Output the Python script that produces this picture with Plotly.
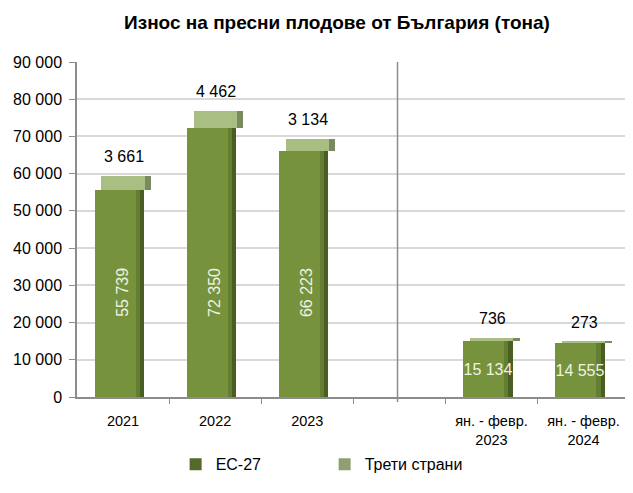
import plotly.graph_objects as go

categories = ["2021", "2022", "2023", "", "ян. - февр.<br>2023", "ян. - февр.<br>2024"]
ec27 = [55739, 72350, 66223, None, 15134, 14555]
third = [3661, 4462, 3134, None, 736, 273]
ec_labels = ["55 739", "72 350", "66 223", "", "15 134", "14 555"]
third_labels = ["3 661", "4 462", "3 134", "", "736", "273"]
vertical_label = [True, True, True, False, False, False]
series_names = ["ЕС-27", "Трети страни"]

xpos = list(range(len(categories)))

FONT = "Liberation Sans Narrow, Arial Narrow, Liberation Sans, Arial, sans-serif"
EC_COLOR = "#76923C"
EC_DARK = "#4A5E24"
TH_COLOR = "#A9BE83"
TH_DARK = "#7A8A5E"
BW = 0.54
EC_OFF = -BW / 2 - 0.04
TH_OFF = -BW / 2 + 0.035

# the page body has an 8px margin; keep the figure inside the window
W, H = 617, 477

fig = go.Figure()

fig.add_trace(go.Bar(
    x=xpos, y=ec27, name=series_names[0], width=BW, offset=EC_OFF,
    marker=dict(color=EC_COLOR, line=dict(width=0)),
    hoverinfo="skip", showlegend=False,
))
fig.add_trace(go.Bar(
    x=xpos, y=ec27, width=0.09, offset=EC_OFF + BW - 0.09,
    marker=dict(color="#637D31", line=dict(width=0)), showlegend=False, hoverinfo="skip",
))
fig.add_trace(go.Bar(
    x=xpos, y=ec27, width=0.045, offset=EC_OFF + BW - 0.045,
    marker=dict(color=EC_DARK, line=dict(width=0)), showlegend=False, hoverinfo="skip",
))
fig.add_trace(go.Bar(
    x=xpos, y=third, base=ec27, name=series_names[1], width=BW, offset=TH_OFF,
    marker=dict(color=TH_COLOR, line=dict(width=0)),
    hoverinfo="skip", showlegend=False,
))
fig.add_trace(go.Bar(
    x=xpos, y=third, base=ec27, width=0.07, offset=TH_OFF + BW - 0.07,
    marker=dict(color=TH_DARK, line=dict(width=0)), showlegend=False, hoverinfo="skip",
))
# transparent overlay carrying the horizontal in-bar labels (drawn on top)
fig.add_trace(go.Bar(
    x=xpos, y=ec27, width=BW, offset=EC_OFF,
    marker=dict(color="rgba(0,0,0,0)", line=dict(width=0)),
    text=[t if not v else "" for t, v in zip(ec_labels, vertical_label)],
    textposition="inside", insidetextanchor="middle", textangle=0, constraintext="none",
    textfont=dict(family=FONT, size=16, color="#EEF3E2"),
    showlegend=False, hoverinfo="skip",
))
# legend entries (legend swatches are darker, as in the original)
fig.add_trace(go.Bar(x=[None], y=[None], name=series_names[0],
                     marker=dict(color="#536A29", line=dict(width=0)), hoverinfo="skip"))
fig.add_trace(go.Bar(x=[None], y=[None], name=series_names[1],
                     marker=dict(color="#8E9F72", line=dict(width=0)), hoverinfo="skip"))

for xp, lab, v in zip(xpos, ec_labels, vertical_label):
    if v:
        fig.add_annotation(x=xp, y=28000, text=lab, textangle=-90, showarrow=False,
                           font=dict(family=FONT, size=16, color="#EEF3E2"))

for xp, e, t, lab in zip(xpos, ec27, third, third_labels):
    if e is not None:
        fig.add_annotation(x=xp, y=e + t, text=lab, showarrow=False, yanchor="bottom",
                           yshift=9, xshift=1, font=dict(family=FONT, size=16, color="#000000"))

fig.add_shape(type="line", xref="x", yref="paper", x0=2.98, x1=2.98, y0=-0.015, y1=1,
              line=dict(color="#8C8C8C", width=1.5))

fig.update_layout(
    width=W, height=H,
    margin=dict(l=69, r=0, t=54, b=88, autoexpand=False),
    paper_bgcolor="white", plot_bgcolor="white",
    barmode="overlay", bargap=0,
    separators=". ",
    font=dict(family=FONT, size=15, color="#000000"),
    title=dict(text="<b>Износ на пресни плодове от България (тона)</b>",
               x=329 / W, xanchor="center", y=1 - 14 / H, yanchor="middle",
               font=dict(family=FONT, size=19, color="#000000")),
    showlegend=True,
    legend=dict(orientation="h", x=0.18, xanchor="left", y=-0.15, yanchor="top",
                entrywidth=104, entrywidthmode="pixels",
                font=dict(family=FONT, size=16, color="#000000"), traceorder="normal"),
    xaxis=dict(range=[-0.5, 5.45], tickmode="array", tickvals=xpos,
               ticktext=categories, ticks="", tickangle=0, automargin=False,
               ticklabelstandoff=10,
               showline=True, linecolor="#8C8C8C", linewidth=1.5,
               minor=dict(ticks="outside", tickmode="array",
                          tickvals=[p + 0.5 for p in xpos], ticklen=5,
                          tickcolor="#8C8C8C", showgrid=False),
               tickfont=dict(family=FONT, size=14.5, color="#000000"),
               showgrid=False, zeroline=False, fixedrange=True),
    yaxis=dict(range=[0, 90000], dtick=10000, tickformat=",d", automargin=False,
               showline=True, linecolor="#8C8C8C", linewidth=1.5,
               ticks="outside", ticklen=6, tickcolor="#8C8C8C", ticklabelstandoff=4,
               showgrid=True, gridcolor="#D9D9D9", gridwidth=1.5,
               tickfont=dict(family=FONT, size=16, color="#000000"),
               zeroline=False, fixedrange=True),
)

fig.write_html("out.html")
